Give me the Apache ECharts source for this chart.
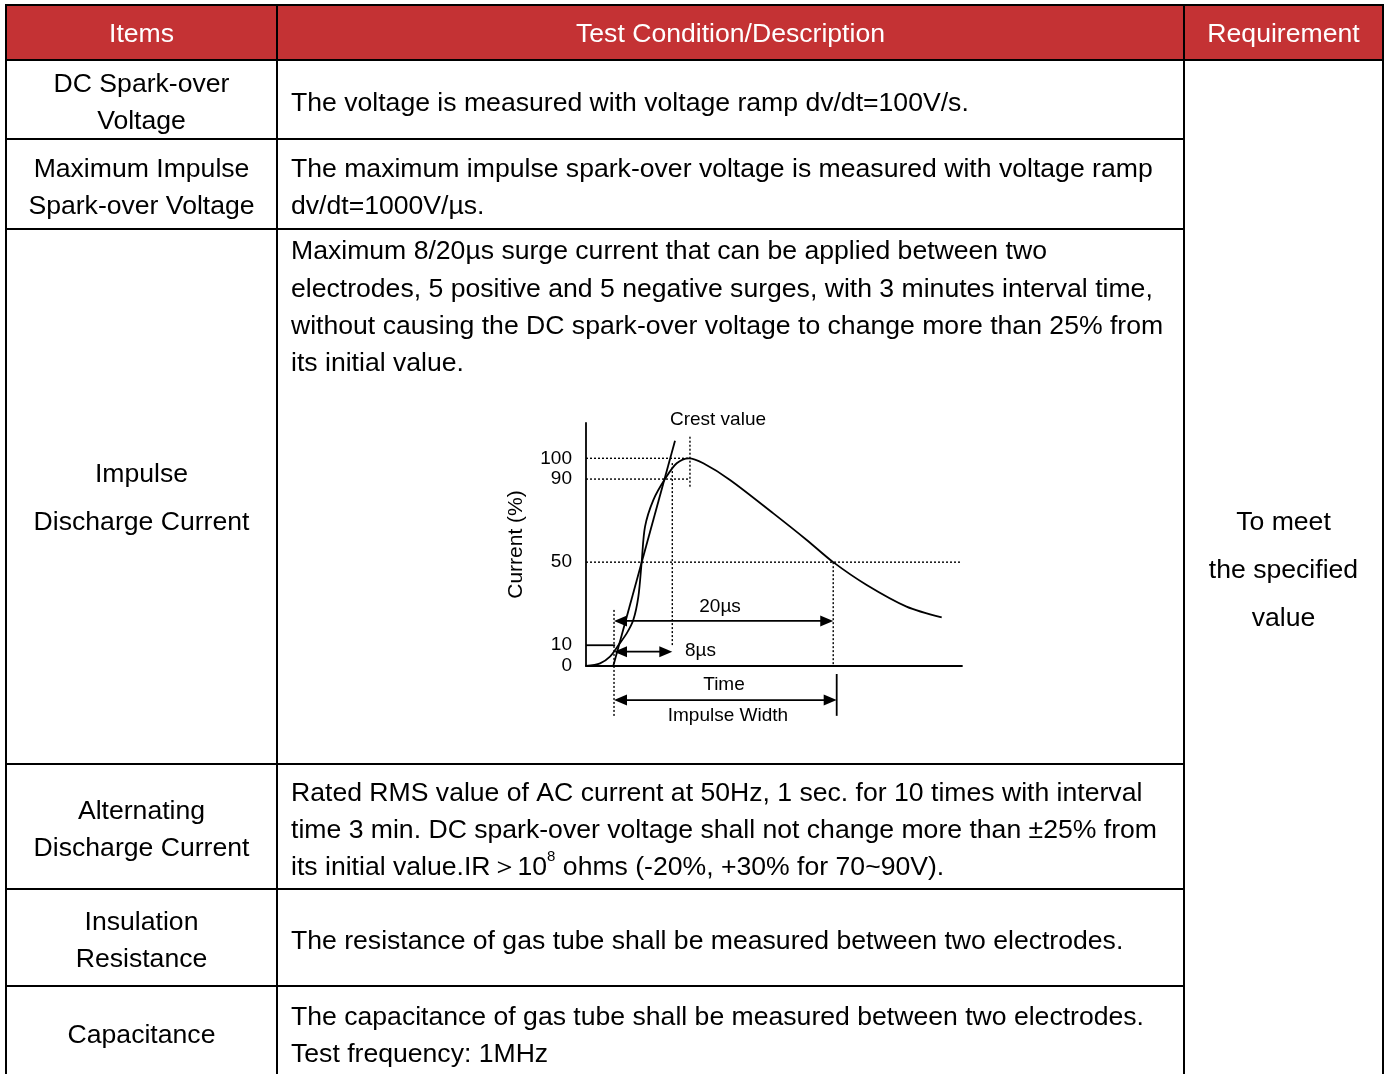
<!DOCTYPE html>
<html>
<head>
<meta charset="utf-8">
<script src="https://cdn.jsdelivr.net/npm/echarts@6/dist/echarts.min.js"></script>
<style>
html,body{margin:0;padding:0;background:#fff;}
#c{width:1389px;height:1074px;}
</style>
</head>
<body>
<div id="c"></div>
<script>
// ---------- table content ----------
const headers = ['Items', 'Test Condition/Description', 'Requirement'];
const items = [
  ['DC Spark-over', 'Voltage'],
  ['Maximum Impulse', 'Spark-over Voltage'],
  ['Impulse', 'Discharge Current'],
  ['Alternating', 'Discharge Current'],
  ['Insulation', 'Resistance'],
  ['Capacitance']
];
const descriptions = [
  ['The voltage is measured with voltage ramp dv/dt=100V/s.'],
  ['The maximum impulse spark-over voltage is measured with voltage ramp', 'dv/dt=1000V/\u00b5s.'],
  ['Maximum 8/20\u00b5s surge current that can be applied between two',
   'electrodes, 5 positive and 5 negative surges, with 3 minutes interval time,',
   'without causing the DC spark-over voltage to change more than 25% from',
   'its initial value.'],
  ['Rated RMS value of AC current at 50Hz, 1 sec. for 10 times with interval',
   'time 3 min. DC spark-over voltage shall not change more than \u00b125% from',
   'its initial value.IR\uff1e10^8 ohms (-20%, +30% for 70~90V).'],
  ['The resistance of gas tube shall be measured between two electrodes.'],
  ['The capacitance of gas tube shall be measured between two electrodes.', 'Test frequency: 1MHz']
];
const requirement = ['To meet', 'the specified', 'value'];

// ---------- surge waveform (time in arbitrary units, current in %) ----------
const waveTime    = [0, 1.5, 2.55, 3.44, 4.33, 5.03, 5.57, 5.92, 6.28, 7.16, 8.4, 9.65, 10.96, 12.48, 15.32, 19.93, 23.48, 26.3, 29.86, 34.1, 37.84];
const waveCurrent = [0, 1.3, 4.5, 10, 15.7, 22.1, 33.4, 50, 67.1, 79.9, 90, 97.6, 100, 97.6, 89.6, 73.5, 60.7, 50, 39, 28.6, 23.4];
const frontTime    = [2.9, 9.47];
const frontCurrent = [0, 108.5];
const yTickValues  = [0, 10, 50, 90, 100];
const dottedGuides = [
  [[0, 100], [11.06, 100]],
  [[0, 90], [11.06, 90]],
  [[0, 50], [39.8, 50]],
  [[11.06, 110.4], [11.06, 86.3]],
  [[9.18, 97.7], [9.18, 10]],
  [[26.3, 50], [26.3, 0]],
  [[2.98, 27], [2.98, -24.4]]
];
const solidGuides = [
  [[0, 10], [3.1, 10]],
  [[26.67, -3.85], [26.67, -24]]
];
const arrowSpans = [
  [[2.98, 21.7], [26.3, 21.7]],
  [[2.98, 6.9], [9.18, 6.9]],
  [[2.98, -16.4], [26.67, -16.4]]
];
const chartNotes = [
  [14.04, 118.4, 'Crest value', 'center'],
  [14.26, 28.4, '20\u00b5s', 'center'],
  [10.53, 7.4, '8\u00b5s', 'left'],
  [14.68, -9.1, 'Time', 'center'],
  [15.1, -24.1, 'Impulse Width', 'center']
];

// ---------- layout ----------
const FONT = '"Liberation Sans", Arial, Helvetica, sans-serif';
const colX = [6, 277, 1184, 1383];
const rowY = [5, 60, 139, 229, 764, 889, 986, 1078];
const FS = 26.6;
const LH = 37.3;
const DY = 2;

const g = [];
g.push({type: 'rect', shape: {x: colX[0], y: rowY[0], width: colX[3] - colX[0], height: rowY[1] - rowY[0]}, style: {fill: '#C43234'}});
headers.forEach((h, i) => {
  g.push({type: 'text', style: {text: h, x: (colX[i] + colX[i + 1]) / 2, y: 33 + DY, fill: '#fff', fontSize: FS, fontFamily: FONT, align: 'center', verticalAlign: 'middle'}});
});
function hline(y, x1, x2) { g.push({type: 'line', shape: {x1: x1, y1: y, x2: x2, y2: y}, style: {stroke: '#000', lineWidth: 2}}); }
function vline(x, y1, y2) { g.push({type: 'line', shape: {x1: x, y1: y1, x2: x, y2: y2}, style: {stroke: '#000', lineWidth: 2}}); }
hline(rowY[0], colX[0] - 1, colX[3] + 1);
hline(rowY[1], colX[0] - 1, colX[3] + 1);
for (let r = 2; r < rowY.length - 1; r++) hline(rowY[r], colX[0] - 1, colX[2]);
colX.forEach(x => vline(x, rowY[0] - 1, 1074));

items.forEach((lines, r) => {
  const cy = (rowY[r + 1] + rowY[r + 2]) / 2 + 2 + (r === 2 ? 0 : DY);
  g.push({type: 'text', style: {text: lines.join('\n'), x: (colX[0] + colX[1]) / 2, y: cy, fill: '#000', fontSize: FS, fontFamily: FONT, align: 'center', verticalAlign: 'middle', lineHeight: r === 2 ? 48 : LH}});
});
descriptions.forEach((lines, r) => {
  const top = rowY[r + 1], bot = rowY[r + 2];
  const base = {x: 291, fill: '#000', fontSize: FS, fontFamily: FONT, align: 'left', lineHeight: LH};
  if (r === 2) {
    g.push({type: 'text', style: Object.assign({}, base, {text: lines.join('\n'), y: 250 + DY - LH / 2, verticalAlign: 'top'})});
  } else if (lines.some(l => l.indexOf('^') >= 0)) {
    const rt = lines.map(l => {
      if (l.indexOf('^') < 0) return '{t|' + l + '}';
      const p = l.split('^');
      return '{t|' + p[0] + '}{s|' + p[1].charAt(0) + '}{t|' + p[1].slice(1) + '}';
    }).join('\n');
    g.push({type: 'text', style: Object.assign({}, base, {
      text: rt, y: (top + bot) / 2 + 2 + DY, verticalAlign: 'middle',
      rich: {
        t: {fontSize: FS, fontFamily: FONT, fill: '#000', lineHeight: LH},
        s: {fontSize: 15, fontFamily: FONT, fill: '#000', lineHeight: 20, verticalAlign: 'top'}
      }
    })});
  } else {
    g.push({type: 'text', style: Object.assign({}, base, {text: lines.join('\n'), y: (top + bot) / 2 + 2 + DY, verticalAlign: 'middle'})});
  }
});
g.push({type: 'text', style: {text: requirement.join('\n'), x: (colX[2] + colX[3]) / 2, y: 569 + DY, fill: '#000', fontSize: FS, fontFamily: FONT, align: 'center', verticalAlign: 'middle', lineHeight: 48}});

// ---------- chart series ----------
const series = [];
series.push({
  type: 'line', data: waveTime.map((t, i) => [t, waveCurrent[i]]), smooth: 0.3,
  symbol: 'none', clip: false, silent: true, lineStyle: {color: '#000', width: 1.8}
});
series.push({
  type: 'line', data: frontTime.map((t, i) => [t, frontCurrent[i]]),
  symbol: 'none', clip: false, silent: true, lineStyle: {color: '#000', width: 1.8}
});
dottedGuides.forEach(seg => series.push({
  type: 'line', data: seg, symbol: 'none', clip: false, silent: true,
  lineStyle: {color: '#000', width: 1.4, type: [2, 2]}
}));
solidGuides.forEach(seg => series.push({
  type: 'line', data: seg, symbol: 'none', clip: false, silent: true,
  lineStyle: {color: '#000', width: 1.8}
}));
series.push({
  type: 'custom', clip: false, silent: true,
  data: arrowSpans.map(s => [s[0][0], s[0][1], s[1][0], s[1][1]]),
  encode: {x: [0, 2], y: [1, 3]},
  renderItem: function (params, api) {
    const p1 = api.coord([api.value(0), api.value(1)]);
    const p2 = api.coord([api.value(2), api.value(3)]);
    const L = 13, W = 5.5;
    return {type: 'group', children: [
      {type: 'line', shape: {x1: p1[0] + L - 1, y1: p1[1], x2: p2[0] - L + 1, y2: p2[1]}, style: {stroke: '#000', lineWidth: 1.8}},
      {type: 'polygon', shape: {points: [[p1[0], p1[1]], [p1[0] + L, p1[1] - W], [p1[0] + L, p1[1] + W]]}, style: {fill: '#000'}},
      {type: 'polygon', shape: {points: [[p2[0], p2[1]], [p2[0] - L, p2[1] - W], [p2[0] - L, p2[1] + W]]}, style: {fill: '#000'}}
    ]};
  }
});
series.push({
  type: 'custom', clip: false, silent: true,
  data: chartNotes.map(n => [n[0], n[1]]),
  encode: {x: 0, y: 1},
  renderItem: function (params, api) {
    const p = api.coord([api.value(0), api.value(1)]);
    const n = chartNotes[params.dataIndex];
    return {type: 'text', x: p[0], y: p[1], style: {text: n[2], fill: '#000', fontSize: 19, fontFamily: FONT, align: n[3], verticalAlign: 'middle'}};
  }
});

const option = {
  animation: false,
  backgroundColor: '#fff',
  graphic: {elements: g},
  grid: {left: 586, top: 423, width: 376, height: 243},
  xAxis: {
    type: 'value', min: 0, max: 40,
    axisLine: {show: true, onZero: false, lineStyle: {color: '#000', width: 1.8}},
    axisTick: {show: false}, axisLabel: {show: false}, splitLine: {show: false}
  },
  yAxis: {
    type: 'value', min: 0, max: 117,
    name: 'Current (%)', nameLocation: 'middle', nameGap: 59,
    nameTextStyle: {fontSize: 21, color: '#000', fontFamily: FONT},
    axisLine: {show: true, onZero: false, lineStyle: {color: '#000', width: 1.8}},
    axisTick: {show: false}, splitLine: {show: false},
    axisLabel: {customValues: yTickValues, fontSize: 19, color: '#000', margin: 14, fontFamily: FONT}
  },
  series: series
};
const chart = echarts.init(document.getElementById('c'));
chart.setOption(option);
</script>
</body>
</html>
